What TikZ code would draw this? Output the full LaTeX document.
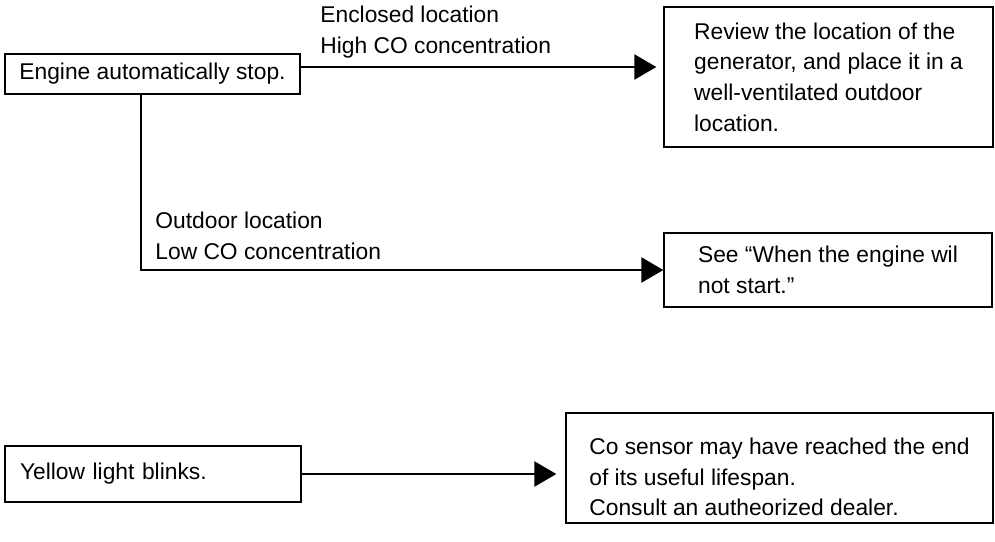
\documentclass[tikz,border=0pt]{standalone}
\usepackage{fontspec}
\setmainfont{Liberation Sans}
\usetikzlibrary{arrows.meta,positioning}

\begin{document}
\begin{tikzpicture}[>={Triangle[length=11pt,width=12.5pt]},x=0.5pt,y=-0.5pt,font=\fontsize{11.4pt}{15.3pt}\selectfont]
\tikzset{bx/.style={draw,line width=0.65pt,align=left},lb/.style={align=left,inner sep=0pt,anchor=base west},cn/.style={line width=1.2pt}}
\useasboundingbox (0,0) rectangle (995,541);
\node[bx,minimum width=147.5pt,minimum height=20pt] (eng) at (152.5,74) {Engine automatically stop.};
\node[bx,minimum width=164.5pt,minimum height=70pt] (rev) at (828.5,77) {Review the location of the\\generator, and place it in a\\well-ventilated outdoor\\location.};
\node[bx,minimum width=164pt,minimum height=37pt] (see) at (828,270) {See “When the engine wil\\not start.”};
\node[bx,text width=133pt,inner xsep=7.5pt,minimum height=28pt] (yel) at (153,474) {Yellow light blinks.};
\node[bx,minimum width=213.5pt,minimum height=55pt,text height=48pt] (co) at (779.5,468) {Co sensor may have reached the end\\of its useful lifespan.\\Consult an autheorized dealer.};
\node[lb] (encl) at (320,53) {Enclosed location\\High CO concentration};
\node[lb] (outd) at (155,259) {Outdoor location\\Low CO concentration};
\draw[cn,->,shorten >=3.5pt]([yshift=3.5pt]eng.east)--([yshift=3.5pt]eng.east -| rev.west);
\draw[cn,->]([xshift=-5.75pt]eng.south)|-(see.west);
\draw[cn,->,shorten >=4.5pt](yel.east)--(yel.east -| co.west);
\end{tikzpicture}
\end{document}
